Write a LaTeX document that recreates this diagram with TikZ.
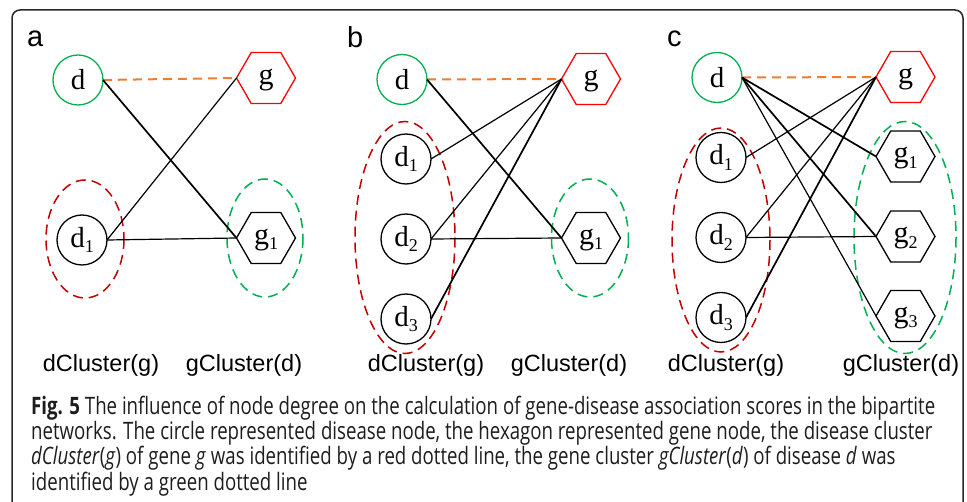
\documentclass[tikz,border=0pt]{standalone}
\usepackage{fontspec}
\usepackage{graphicx}
\usetikzlibrary{shapes.geometric}

\newfontfamily\nodefont{Liberation Serif}
\newfontfamily\labelfont{Liberation Sans}
\newfontfamily\figcapfont{Open Sans}

\definecolor{dgreen}{RGB}{0,176,80}
\definecolor{hexred}{RGB}{255,0,0}
\definecolor{linkorange}{RGB}{237,125,49}
\definecolor{clusterred}{RGB}{192,0,0}
\definecolor{frameclr}{RGB}{40,40,40}
\definecolor{captext}{RGB}{30,28,28}

% lowered subscript digit for node names
\newcommand\sbs[1]{\raisebox{-5.5pt}{\fontsize{18}{18}\selectfont #1}}

\newcommand\capA{\textbf{Fig. 5} The influence of node degree on the calculation of gene-disease association scores in the bipartite}
\newcommand\capB{networks. The circle represented disease node, the hexagon represented gene node, the disease cluster}
\newcommand\capC{\textit{dCluster}(\textit{g}) of gene \textit{g} was identified by a red dotted line, the gene cluster \textit{gCluster}(\textit{d}) of disease \textit{d} was}
\newcommand\capD{identified by a green dotted line}
\newlength\capw

\begin{document}
% horizontal squeeze so the first caption line spans 904pt
\settowidth\capw{\figcapfont\fontsize{24}{25}\selectfont\capA}%
\pgfmathsetmacro\capsx{904/\capw}%
\begin{tikzpicture}[x=1pt,y=-1pt,
  dnode/.style={circle, draw=black, line width=1.3pt, minimum size=50pt,
    inner sep=0pt, outer sep=0pt, font=\nodefont\fontsize{29}{29}\selectfont},
  qnode/.style={dnode, draw=dgreen},
  gnode/.style={regular polygon, regular polygon sides=6, draw=black,
    line width=1.3pt, minimum size=59pt, inner sep=0pt, outer sep=0pt,
    font=\nodefont\fontsize{30}{30}\selectfont, text height=19pt, text depth=6pt},
  tnode/.style={gnode, draw=hexred},
  edge/.style={draw=black, line width=1.2pt},
  thick edge/.style={draw=black, line width=1.7pt},
  link/.style={draw=linkorange, line width=2pt, dash pattern=on 9pt off 6pt},
  dclust/.style={draw=clusterred, line width=1.5pt, dash pattern=on 10pt off 6pt},
  gclust/.style={draw=dgreen, line width=1.5pt, dash pattern=on 10pt off 6pt},
  panel/.style={anchor=base west, inner sep=0pt, font=\labelfont\fontsize{29}{29}\selectfont},
  clname/.style={inner sep=0pt, font=\labelfont\fontsize{23.5}{23.5}\selectfont},
  capline/.style={anchor=base west, inner sep=0pt, text=captext,
    font=\figcapfont\fontsize{24}{25}\selectfont},
  frame/.style={draw=frameclr, line width=1.5pt, rounded corners=8pt}
]
\useasboundingbox (0,0) rectangle (967,502);

% outer frame, open at the bottom
\draw[frame] (12,502) -- (12,10) -- (963,10) -- (963,502);

% ---------------- panel a ----------------
\node[panel] (la) at (27,47) {a};
\draw[dclust] (85,239) ellipse [x radius=39, y radius=59];
\draw[gclust] (265,238) ellipse [x radius=38, y radius=59];
\node[qnode] (da) at (78,80) {d};
\node[tnode] (ga) at (266,78) {g};
\node[dnode] (d1a) at (82,240) {d\sbs{1}};
\node[gnode] (g1a) at (266,238) {g\sbs{1}};
\draw[link] (da.east) -- (ga.west);
\draw[thick edge] (da.east) -- (g1a.west);
\draw[edge] (d1a.east) -- (ga.west);
\draw[edge] (d1a.east) -- (g1a.west);
\node[clname] (dca) at (101,365) {dCluster(g)};
\node[clname] (gca) at (244,365) {gCluster(d)};

% ---------------- panel b ----------------
\node[panel] (lb) at (347,48) {b};
\draw[dclust] (405,237.5) ellipse [x radius=50, y radius=116];
\draw[gclust] (590,238) ellipse [x radius=38.5, y radius=59];
\node[qnode] (db) at (402,79.5) {d};
\node[tnode] (gb) at (591,79) {g};
\node[dnode] (d1b) at (406,159) {d\sbs{1}};
\node[dnode] (d2b) at (406,239) {d\sbs{2}};
\node[dnode] (d3b) at (406,319) {d\sbs{3}};
\node[gnode] (g1b) at (591,238) {g\sbs{1}};
\draw[link] (db.east) -- (gb.west);
\draw[thick edge] (db.east) -- (g1b.west);
\draw[edge] (d1b.east) -- (gb.west);
\draw[edge] (d2b.east) -- (gb.west);
\draw[edge] (d2b.east) -- (g1b.west);
\draw[thick edge] (d3b.east) -- (gb.west);
\node[clname] (dcb) at (426,365) {dCluster(g)};
\node[clname] (gcb) at (569,365) {gCluster(d)};

% ---------------- panel c ----------------
\node[panel] (lc) at (667,47) {c};
\draw[dclust] (721,240) ellipse [x radius=49, y radius=112];
\draw[gclust] (905,237.5) ellipse [x radius=51, y radius=116];
\node[qnode] (dc) at (717,77.5) {d};
\node[tnode] (gc) at (905.5,77) {g};
\node[dnode] (d1c) at (721,157.5) {d\sbs{1}};
\node[dnode] (d2c) at (721,237.5) {d\sbs{2}};
\node[dnode] (d3c) at (721,317.5) {d\sbs{3}};
\node[gnode] (g1c) at (905.5,156.5) {g\sbs{1}};
\node[gnode] (g2c) at (905.5,236.5) {g\sbs{2}};
\node[gnode] (g3c) at (905.5,316) {g\sbs{3}};
\draw[link] (dc.east) -- (gc.west);
\draw[thick edge] (dc.east) -- (g1c.west);
\draw[thick edge] (dc.east) -- (g2c.west);
\draw[edge] (dc.east) -- (g3c.west);
\draw[edge] (d1c.east) -- (gc.west);
\draw[edge] (d2c.east) -- (gc.west);
\draw[thick edge] (d3c.east) -- (gc.west);
\draw[edge] (d2c.east) -- (g2c.west);
\node[clname] (dcc) at (726,365) {dCluster(g)};
\node[clname] (gcc) at (901,365) {gCluster(d)};

% ---------------- caption ----------------
\node[capline] (cap1) at (31,415) {\scalebox{\capsx}[1]{\capA}};
\node[capline] (cap2) at (31,440) {\scalebox{\capsx}[1]{\capB}};
\node[capline] (cap3) at (31,465) {\scalebox{\capsx}[1]{\capC}};
\node[capline] (cap4) at (31,490) {\scalebox{\capsx}[1]{\capD}};
\end{tikzpicture}
\end{document}
